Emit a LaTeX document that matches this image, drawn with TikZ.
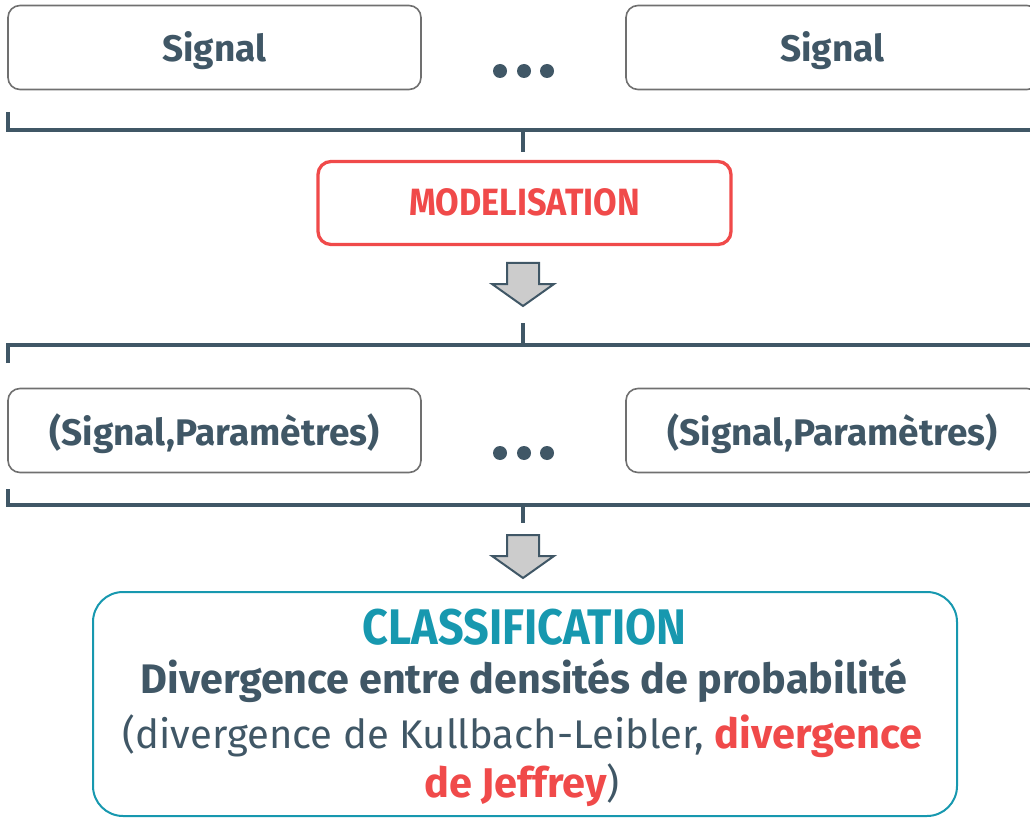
\documentclass[tikz,border=0pt]{standalone}
\usepackage{fontspec}
\usetikzlibrary{calc}
\setmainfont{Fira Sans}
\newfontfamily\condfont[FakeStretch=0.9]{Fira Sans}
\definecolor{slate}{HTML}{405766}
\definecolor{redc}{HTML}{F04A4A}
\definecolor{tealc}{HTML}{1798AF}
\definecolor{boxgray}{HTML}{707070}
\definecolor{arrowfill}{HTML}{CCCCCC}
\newcommand{\redbold}[1]{\textcolor{redc}{\bfseries\fontsize{41.5}{44}\selectfont #1}}
\begin{document}
\begin{tikzpicture}[x=1pt,y=-1pt,
  sigbox/.style={draw=boxgray, line width=1.6pt, rounded corners=12pt, minimum width=413pt, minimum height=84pt, inner sep=0pt, text height=29pt, text depth=0pt, text=slate, font=\bfseries\fontsize{37}{42}\selectfont},
  dotnode/.style={circle, fill=slate, minimum size=14pt, inner sep=0pt},
  bracket/.style={draw=slate, line width=4.5pt},
  modbox/.style={draw=redc, line width=3.3pt, rounded corners=13pt, minimum width=413pt, minimum height=83pt, inner sep=0pt, text height=26pt, text depth=0pt, text=redc, font=\condfont\bfseries\fontsize{38}{44}\selectfont},
  classbox/.style={draw=tealc, line width=2pt, rounded corners=30pt, minimum width=864pt, minimum height=224pt, inner sep=0pt},
  blockarrow/.style={draw=slate, line width=2pt, fill=arrowfill, line join=miter},
  txt/.style={anchor=base, inner sep=0pt, text=slate}
]
\useasboundingbox (0,0) rectangle (1030,818);

% Row 1
\node[sigbox] (s1) at (214.5,47.5) {Signal};
\node[sigbox] (s2) at (832.5,47.5) {Signal};
\node[dotnode] (d1) at (500,71) {};
\node[dotnode] (d2) at (524,71) {};
\node[dotnode] (d3) at (547,71) {};

% Bracket 1
\coordinate (b1l) at (8,112);
\coordinate (b1c) at (8,130);
\coordinate (b1r) at (1035,130);
\coordinate (b1m) at (523,130);
\coordinate (b1s) at (523,152);
\draw[bracket] (b1l) -- (b1c) -- (b1r);
\draw[bracket] (b1m) -- (b1s);

% Modelisation
\node[modbox] (mod) at (524.5,203) {MODELISATION};

% Arrow 1
\coordinate (a1) at (523,263);
\draw[blockarrow] ($(a1)+(-16,0)$) -- ($(a1)+(16,0)$) -- ($(a1)+(16,21)$) -- ($(a1)+(31,21)$) -- ($(a1)+(0,43)$) -- ($(a1)+(-31,21)$) -- ($(a1)+(-16,21)$) -- cycle;

% Bracket 2
\coordinate (b2s) at (523,323);
\coordinate (b2m) at (523,345);
\coordinate (b2l) at (8,363);
\coordinate (b2c) at (8,345);
\coordinate (b2r) at (1035,345);
\draw[bracket] (b2l) -- (b2c) -- (b2r);
\draw[bracket] (b2s) -- (b2m);

% Row 2
\node[sigbox] (p1) at (214.5,430.5) {(Signal,Paramètres)};
\node[sigbox] (p2) at (832.5,430.5) {(Signal,Paramètres)};
\node[dotnode] (e1) at (500,453) {};
\node[dotnode] (e2) at (524,453) {};
\node[dotnode] (e3) at (547,453) {};

% Bracket 3
\coordinate (b3l) at (8,489);
\coordinate (b3c) at (8,505);
\coordinate (b3r) at (1035,505);
\coordinate (b3m) at (523,505);
\coordinate (b3s) at (523,523);
\draw[bracket] (b3l) -- (b3c) -- (b3r);
\draw[bracket] (b3m) -- (b3s);

% Arrow 2
\coordinate (a2) at (523,535);
\draw[blockarrow] ($(a2)+(-16,0)$) -- ($(a2)+(16,0)$) -- ($(a2)+(16,21)$) -- ($(a2)+(31,21)$) -- ($(a2)+(0,43)$) -- ($(a2)+(-31,21)$) -- ($(a2)+(-16,21)$) -- cycle;

% Classification box
\node[classbox] (cls) at (525,704) {};
\node[txt, text=tealc, font=\condfont\bfseries\fontsize{50}{56}\selectfont] (t1) at (524.5,644) {CLASSIFICATION};
\node[txt, font=\bfseries\fontsize{41.3}{44}\selectfont] (t2) at (524,693) {Divergence entre densités de probabilité};
\node[txt, font=\fontsize{40}{44}\selectfont] (t3) at (522.5,748) {(divergence de Kullbach-Leibler, \redbold{divergence}};
\node[txt, font=\fontsize{40}{44}\selectfont] (t4) at (522,797) {\redbold{de Jeffrey})};
\end{tikzpicture}
\end{document}
